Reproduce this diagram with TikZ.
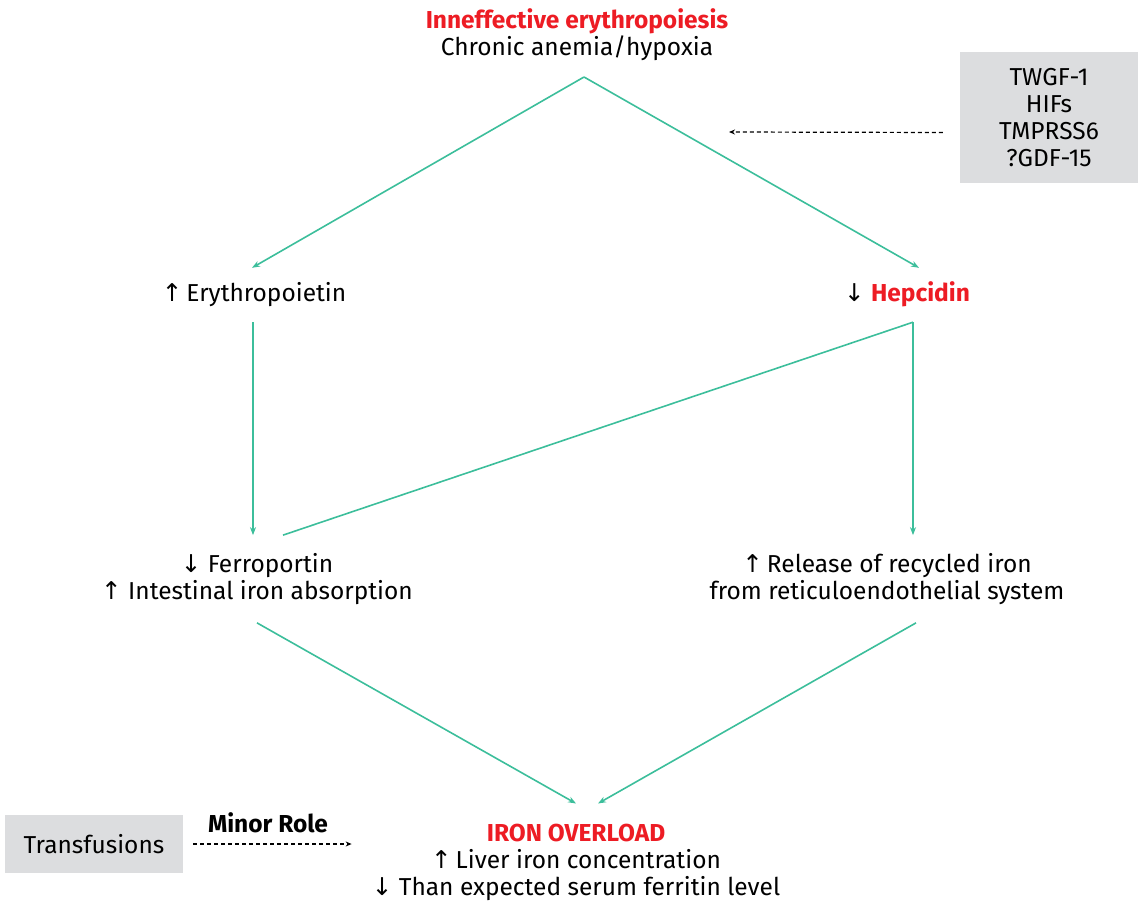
\documentclass[tikz,border=0pt]{standalone}
\usepackage{fontspec}
\setmainfont{Fira Sans}
\newfontfamily\arrowFont{DejaVu Sans}
\usetikzlibrary{arrows.meta,positioning}
\definecolor{linkColor}{RGB}{60,190,155}
\definecolor{titleRed}{RGB}{237,28,36}
\definecolor{boxGray}{RGB}{220,221,223}
\tikzset{
  textBlock/.style = {font=\fontsize{24.5}{27}\selectfont, inner xsep=0pt, inner ysep=15.5pt, align=center},
  oneLine/.style = {textBlock, text height=18pt, text depth=5pt},
  twoLine/.style = {textBlock, inner ysep=18pt},
  threeLine/.style = {textBlock, inner ysep=20.5pt},
  grayBox/.style = {textBlock, fill=boxGray, inner sep=0pt},
  link/.style = {color=linkColor, line width=1.6pt},
  linkArrow/.style = {link, -{Stealth[length=8pt,width=6pt]}},
  dotArrow/.style = {line width=1.2pt, dash pattern=on 4pt off 3pt, -{Stealth[length=6pt,width=5pt]}}
}
\newcommand{\upArrow}{{\arrowFont\char"2191}}
\newcommand{\downArrow}{{\arrowFont\char"2193}}
\newcommand{\redTitle}[1]{\textcolor{titleRed}{\bfseries #1}}

\begin{document}
\begin{tikzpicture}[x=1pt, y=-1pt]
  \useasboundingbox (0,0) rectangle (1145,904);

  % text blocks
  \node [twoLine] (cause) at (577,35) {\redTitle{Inneffective erythropoiesis}\\Chronic anemia/hypoxia};
  \coordinate (apex) at (584,77);
  \node [grayBox, minimum width=178pt, minimum height=131pt] (factors) at (1049,117.5) {TWGF-1\\HIFs\\TMPRSS6\\?GDF-15};
  \coordinate (signalEnd) at (729,132);

  \node [oneLine] (epo) at (254,295) {\upArrow\,Erythropoietin};
  \node [oneLine] (hep) at (907,295) {\downArrow\ \redTitle{Hepcidin}};

  \node [twoLine] (ferro) at (257,579) {\downArrow\ Ferroportin\\\upArrow\ Intestinal iron absorption};
  \node [twoLine] (release) at (887,579) {\upArrow\,Release of recycled iron\\from reticuloendothelial system};

  \node [threeLine] (overload) at (576,862.5) {\redTitle{IRON OVERLOAD}\\\upArrow\,Liver iron concentration\\\downArrow\ Than expected serum ferritin level};
  \node [grayBox, minimum width=178pt, minimum height=58pt] (transf) at (94,844) {Transfusions};
  \node [oneLine, inner ysep=0pt] (minor) at (268,826) {\bfseries Minor Role};

  % connectors
  \draw [linkArrow] (apex) -- ([xshift=-2pt]epo.north);
  \draw [linkArrow] (apex) -- ([xshift=12pt]hep.north);
  \coordinate (hepFoot) at ([xshift=6pt]hep.south);
  \draw [linkArrow] ([xshift=-1pt]epo.south) -- ([xshift=-4pt]ferro.north);
  \draw [linkArrow] (hepFoot) -- (hepFoot |- release.north);
  \draw [link] (hepFoot) -- ([xshift=26pt]ferro.north);
  \draw [linkArrow] (ferro.south) -- (overload.north);
  \draw [linkArrow] ([xshift=29pt]release.south) -- ([xshift=22pt]overload.north);

  \draw [dotArrow] ([xshift=-17pt, yshift=-15pt]factors.west) -- (signalEnd);
  \draw [dotArrow] ([xshift=10pt]transf.east) -- ([xshift=-20pt]transf.east -| overload.west);
\end{tikzpicture}
\end{document}
